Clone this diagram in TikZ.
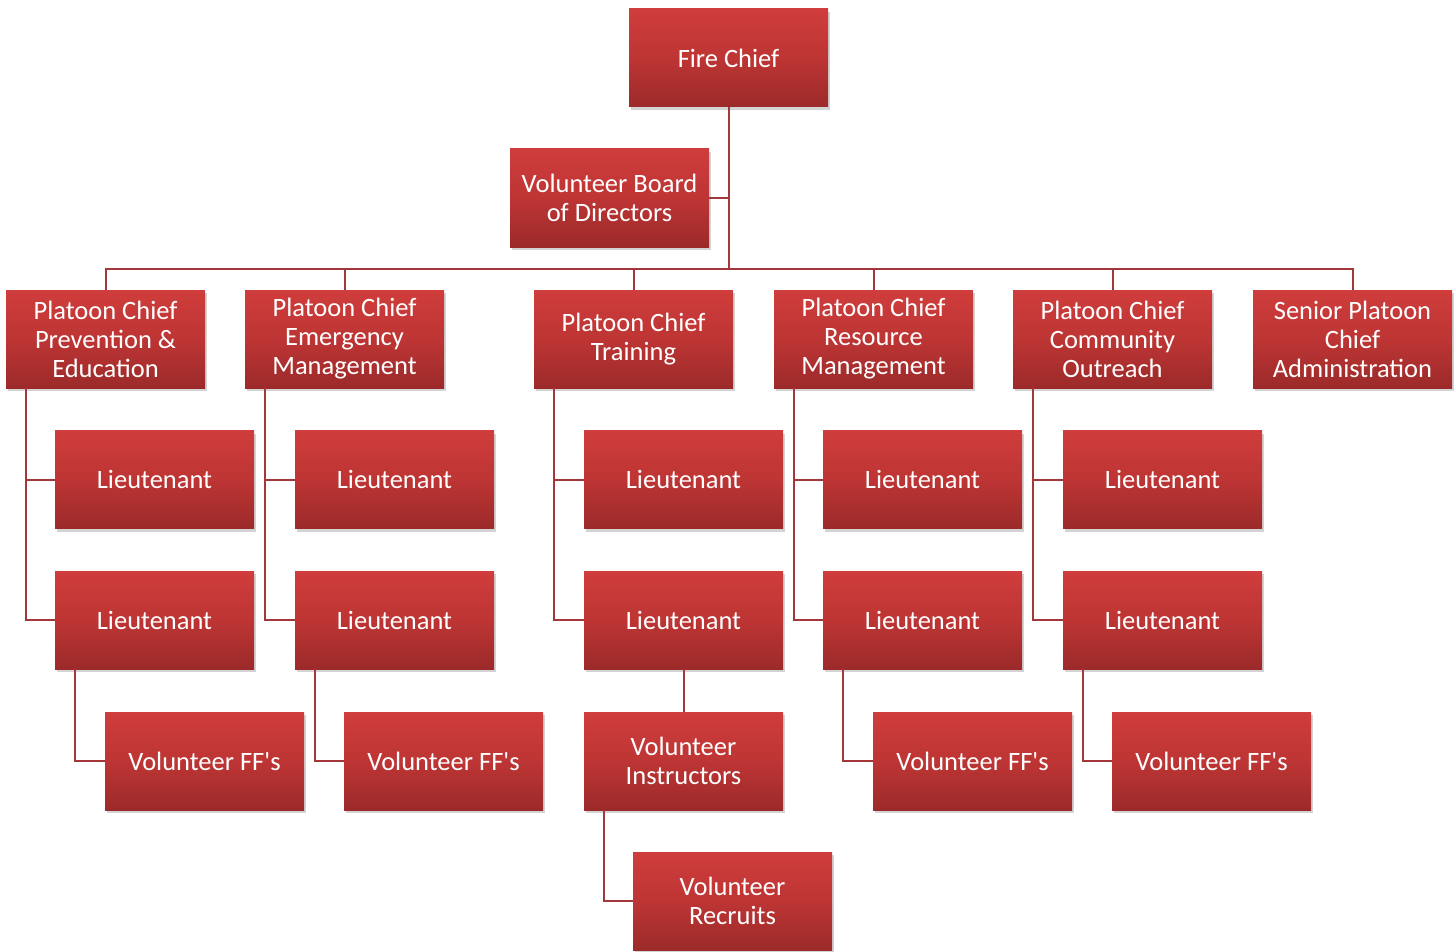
\documentclass[tikz,border=0pt]{standalone}
\usepackage{fontspec}
\newfontfamily\orgfont{Carlito}
\usetikzlibrary{shadows}
\definecolor{boxtop}{HTML}{CF3D3C}
\definecolor{boxmid}{HTML}{BD3534}
\definecolor{boxbot}{HTML}{9C2A2A}
\definecolor{linkc}{HTML}{A3383A}
\tikzset{
  orgbox/.style={rectangle, minimum width=199pt, minimum height=98pt, inner sep=2pt,
    align=center, text=white, font=\orgfont\fontsize{26.5}{29}\selectfont,
    top color=boxtop, bottom color=boxbot, middle color=boxmid,
    drop shadow={opacity=0.35, shadow xshift=2pt, shadow yshift=-3pt}},
  link/.style={draw=linkc, line width=2pt}
}
\begin{document}
\begin{tikzpicture}[x=1pt,y=-1pt]
\useasboundingbox (0,0) rectangle (1456,952);
% top
\node[orgbox] (fc) at (728.5,58) {Fire Chief};
\node[orgbox] (board) at (609.5,198) {Volunteer Board\\of Directors};
% platoon chiefs
\node[orgbox] (pc1) at (105.5,339) {Platoon Chief\\Prevention \&\\Education};
\node[orgbox] (pc2) at (344.5,339) {Platoon Chief\\Emergency\\Management};
\node[orgbox] (pc3) at (633.5,339) {Platoon Chief\\Training};
\node[orgbox] (pc4) at (873.5,339) {Platoon Chief\\Resource\\Management};
\node[orgbox] (pc5) at (1112.5,339) {Platoon Chief\\Community\\Outreach};
\node[orgbox] (pc6) at (1352.5,339) {Senior Platoon\\Chief\\Administration};
% lieutenants
\node[orgbox] (la1) at (154.5,479.5) {Lieutenant};
\node[orgbox] (la2) at (394.5,479.5) {Lieutenant};
\node[orgbox] (la3) at (683.5,479.5) {Lieutenant};
\node[orgbox] (la4) at (922.5,479.5) {Lieutenant};
\node[orgbox] (la5) at (1162.5,479.5) {Lieutenant};
\node[orgbox] (lb1) at (154.5,620) {Lieutenant};
\node[orgbox] (lb2) at (394.5,620) {Lieutenant};
\node[orgbox] (lb3) at (683.5,620) {Lieutenant};
\node[orgbox] (lb4) at (922.5,620) {Lieutenant};
\node[orgbox] (lb5) at (1162.5,620) {Lieutenant};
% volunteers
\node[orgbox] (ff1) at (204.5,761) {Volunteer FF's};
\node[orgbox] (ff2) at (443.5,761) {Volunteer FF's};
\node[orgbox] (vi) at (683.5,761) {Volunteer\\Instructors};
\node[orgbox] (ff4) at (972.5,761) {Volunteer FF's};
\node[orgbox] (ff5) at (1211.5,761) {Volunteer FF's};
\node[orgbox] (vr) at (732.5,901) {Volunteer\\Recruits};
% connectors
\coordinate (bus) at (728.5,269);
\draw[link] (fc.south) -- (bus);
\draw[link] (board.east) -- (board.east -| bus);
\foreach \p in {pc1,pc2,pc3,pc4,pc5,pc6}{
  \draw[link] (bus) -| (\p.north);
}
\foreach \i in {1,2,3,4,5}{
  \draw[link] ([xshift=20pt]pc\i.south west) |- (la\i.west);
  \draw[link] ([xshift=20pt]pc\i.south west) |- (lb\i.west);
}
\draw[link] ([xshift=20pt]lb1.south west) |- (ff1.west);
\draw[link] ([xshift=20pt]lb2.south west) |- (ff2.west);
\draw[link] (lb3.south) -- (vi.north);
\draw[link] ([xshift=20pt]lb4.south west) |- (ff4.west);
\draw[link] ([xshift=20pt]lb5.south west) |- (ff5.west);
\draw[link] ([xshift=20pt]vi.south west) |- (vr.west);
\end{tikzpicture}
\end{document}
